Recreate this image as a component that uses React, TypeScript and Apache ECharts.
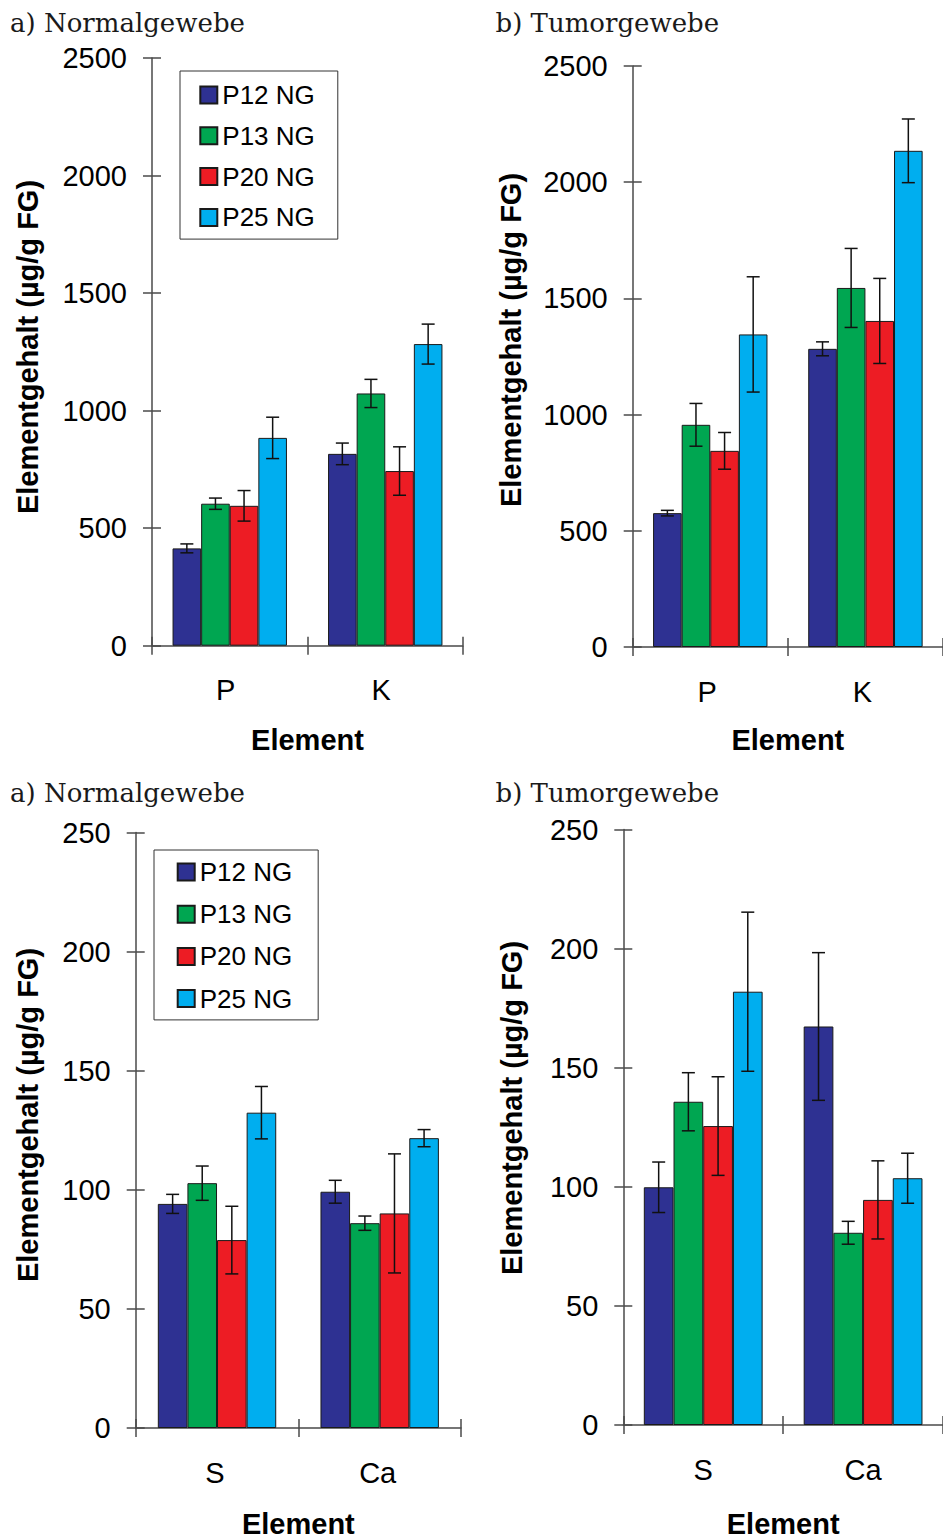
import React, { useEffect, useRef } from "react";
import * as echarts from "echarts";

// ---------- data ----------
const samples = ["P12 NG", "P13 NG", "P20 NG", "P25 NG"];
const sampleColors = ["#2E3192", "#00A651", "#ED1C24", "#00AEEF"];

const titleA = "a) Normalgewebe";
const titleB = "b) Tumorgewebe";
const yName = "Elementgehalt (µg/g FG)";
const xName = "Element";

// Panel a) top: P, K
const catsTop = ["P", "K"];
const aTopValues = [
  [414, 816],
  [604, 1073],
  [595, 743],
  [884, 1283],
];
const aTopErrors = [
  [19, 46],
  [24, 60],
  [65, 103],
  [88, 85],
];

// Panel b) top: P, K
const bTopValues = [
  [576, 1283],
  [956, 1545],
  [844, 1403],
  [1345, 2135],
];
const bTopErrors = [
  [12, 30],
  [92, 170],
  [79, 183],
  [248, 137],
];

// Panel a) bottom: S, Ca
const catsBottom = ["S", "Ca"];
const aBotValues = [
  [94.1, 99.2],
  [102.8, 86.0],
  [78.9, 90.1],
  [132.4, 121.7],
];
const aBotErrors = [
  [4, 4.8],
  [7.2, 3],
  [14.2, 25],
  [11, 3.6],
];

// Panel b) bottom: S, Ca
const bBotValues = [
  [99.8, 167.3],
  [135.7, 80.7],
  [125.5, 94.5],
  [181.9, 103.6],
];
const bBotErrors = [
  [10.6, 31],
  [12.2, 4.8],
  [20.7, 16.4],
  [33.4, 10.5],
];

const yMaxTop = 2500;
const yIntervalTop = 500;
const yMaxBottom = 250;
const yIntervalBottom = 50;

// ---------- styling / layout ----------
const SANS = "Liberation Sans, Arial, Helvetica, sans-serif";
const SERIF = "DejaVu Serif, serif";
const AXIS_COLOR = "#4a4a4a";

const panels = [
  {
    cats: catsTop, values: aTopValues, errors: aTopErrors, max: yMaxTop, interval: yIntervalTop,
    grid: { left: 152, top: 58, width: 311, height: 587.7 }, barWidth: 28.6, nameGap: 80,
    labelPad: [0, 8, 0, 0],
    title: titleA, titlePos: [10, 9.5], yNamePos: [27.5, 347],
  },
  {
    cats: catsTop, values: bTopValues, errors: bTopErrors, max: yMaxTop, interval: yIntervalTop,
    grid: { left: 632.7, top: 66, width: 314.6, height: 581 }, barWidth: 28.6, nameGap: 78,
    labelPad: [0, 6, 0, 0],
    title: titleB, titlePos: [495.5, 9.5], yNamePos: [511, 340],
  },
  {
    cats: catsBottom, values: aBotValues, errors: aBotErrors, max: yMaxBottom, interval: yIntervalBottom,
    grid: { left: 135.7, top: 832.6, width: 325.3, height: 595.7 }, barWidth: 29.6, nameGap: 81,
    labelPad: [0, 4, 0, 0],
    title: titleA, titlePos: [10, 779.5], yNamePos: [28, 1115],
  },
  {
    cats: catsBottom, values: bBotValues, errors: bBotErrors, max: yMaxBottom, interval: yIntervalBottom,
    grid: { left: 623.3, top: 829.5, width: 324.8, height: 597.5 }, barWidth: 29.7, nameGap: 84,
    labelPad: [0, 0, 0, 0],
    title: titleB, titlePos: [495.5, 779.5], yNamePos: [512, 1108],
  },
];

function buildOption() {
  const grid: any[] = [];
  const xAxis: any[] = [];
  const yAxis: any[] = [];
  const series: any[] = [];
  const title: any[] = [];
  const graphic: any[] = [];

  const axisLineStyle = { color: AXIS_COLOR, width: 1.5 };

  panels.forEach((p, g) => {
    grid.push({ ...p.grid, containLabel: false });

    xAxis.push({
      gridIndex: g, type: "category", data: p.cats, position: "bottom",
      axisLine: { show: true, lineStyle: axisLineStyle },
      axisTick: { show: true, inside: false, length: 9, alignWithLabel: false, lineStyle: axisLineStyle },
      axisLabel: { show: true, margin: 30, fontFamily: SANS, fontSize: 29, color: "#000", padding: p.labelPad },
      splitLine: { show: false },
      name: xName, nameLocation: "middle", nameGap: p.nameGap,
      nameTextStyle: { fontFamily: SANS, fontSize: 29, fontWeight: "bold", color: "#000" },
    });
    xAxis.push({
      gridIndex: g, type: "category", data: p.cats, position: "bottom",
      axisLine: { show: false },
      axisTick: { show: true, inside: true, length: 9, alignWithLabel: false, lineStyle: axisLineStyle },
      axisLabel: { show: false },
      splitLine: { show: false },
    });

    yAxis.push({
      gridIndex: g, type: "value", min: 0, max: p.max, interval: p.interval, position: "left",
      axisLine: { show: true, lineStyle: axisLineStyle },
      axisTick: { show: true, inside: false, length: 9, lineStyle: axisLineStyle },
      axisLabel: {
        show: true, margin: 25, fontFamily: SANS, fontSize: 29, color: "#000",
        formatter: (v: number) => String(v),
      },
      splitLine: { show: false },
    });
    yAxis.push({
      gridIndex: g, type: "value", min: 0, max: p.max, interval: p.interval, position: "left",
      axisLine: { show: false },
      axisTick: { show: true, inside: true, length: 9, lineStyle: axisLineStyle },
      axisLabel: { show: false },
      splitLine: { show: false },
    });

    samples.forEach((name, s) => {
      series.push({
        name, type: "bar", xAxisIndex: 2 * g, yAxisIndex: 2 * g,
        data: p.values[s], barWidth: p.barWidth, barGap: "0%",
        itemStyle: { color: sampleColors[s], borderColor: "#1a1a1a", borderWidth: 1 },
        z: 2,
      });
    });

    const errData: number[][] = [];
    samples.forEach((_, s) => {
      p.values[s].forEach((v, c) => errData.push([c, s, v, p.errors[s][c]]));
    });
    const bw = p.barWidth;
    series.push({
      type: "custom", xAxisIndex: 2 * g, yAxisIndex: 2 * g, z: 5, silent: true,
      data: errData,
      renderItem: (_params: any, api: any) => {
        const c = api.value(0), s = api.value(1), v = api.value(2), e = api.value(3);
        const top = api.coord([c, v + e]);
        const bot = api.coord([c, v - e]);
        const x = top[0] + (s - 1.5) * bw;
        const hw = 6.5;
        const st = { stroke: "#111", lineWidth: 1.5 };
        return {
          type: "group",
          children: [
            { type: "line", shape: { x1: x, y1: top[1], x2: x, y2: bot[1] }, style: st },
            { type: "line", shape: { x1: x - hw, y1: top[1], x2: x + hw, y2: top[1] }, style: st },
            { type: "line", shape: { x1: x - hw, y1: bot[1], x2: x + hw, y2: bot[1] }, style: st },
          ],
        };
      },
    });

    title.push({
      text: p.title, left: p.titlePos[0], top: p.titlePos[1], padding: 0,
      textStyle: { fontFamily: SERIF, fontSize: 26, fontWeight: "normal", color: "#1a1a1a" },
    });

    graphic.push({
      type: "text", x: p.yNamePos[0], y: p.yNamePos[1], rotation: Math.PI / 2,
      style: {
        text: yName, font: `bold 29px ${SANS}`, fill: "#000",
        align: "center", verticalAlign: "middle",
      },
    });
  });

  const legendCommon = {
    orient: "vertical", data: samples, icon: "rect", itemWidth: 17, itemHeight: 17,
    borderColor: "#333", borderWidth: 1, selectedMode: false,
    textStyle: { fontFamily: SANS, fontSize: 26, color: "#000" },
  };

  return {
    animation: false,
    backgroundColor: "#fff",
    title,
    grid,
    xAxis,
    yAxis,
    series,
    graphic,
    legend: [
      { ...legendCommon, left: 180, top: 71, itemGap: 14.8, padding: [11, 23, 8.7, 19.3] },
      { ...legendCommon, left: 154, top: 850, itemGap: 16.2, padding: [9, 26, 8.3, 22.7] },
    ],
  };
}

export default function App() {
  const ref = useRef<HTMLDivElement>(null);
  useEffect(() => {
    if (!ref.current) return;
    const chart = echarts.init(ref.current, undefined, { renderer: "svg" });
    chart.setOption(buildOption() as any);
    return () => chart.dispose();
  }, []);
  return (
    <div
      ref={ref}
      style={{ position: "absolute", left: 0, top: 0, width: 943, height: 1539, background: "#fff" }}
    />
  );
}
